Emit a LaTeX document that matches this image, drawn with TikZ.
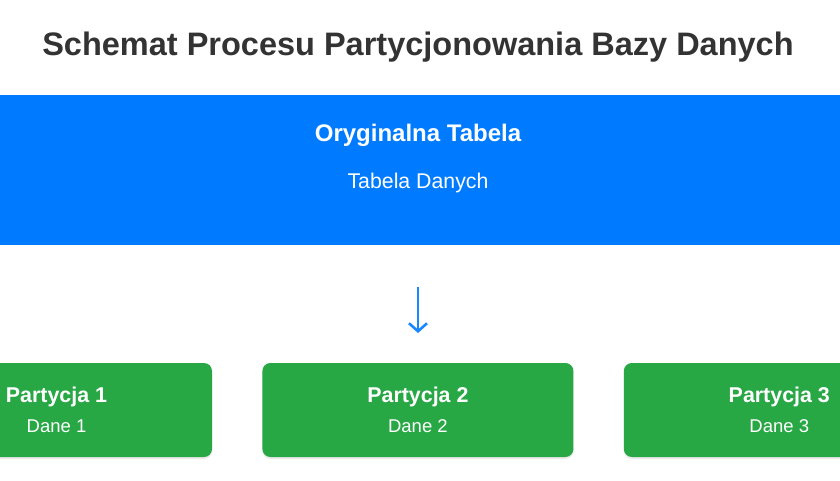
\documentclass[tikz,border=0pt]{standalone}
\usepackage{fontspec}
\setmainfont{Liberation Sans}
\usepackage{tikz}
\usetikzlibrary{
        arrows.meta,
        positioning,
        shadows
    }
\definecolor{tabblue}{HTML}{007BFF}
\definecolor{partgreen}{HTML}{28A745}
\definecolor{titlegray}{HTML}{333333}
\tikzset{
    tabela/.style={rectangle,fill=tabblue,minimum width=840pt,minimum height=150pt,inner sep=0pt},
    partycja/.style={rectangle,rounded corners=8pt,fill=partgreen,text=white,
        minimum width=311pt,minimum height=94pt,inner sep=0pt,align=center,
        font=\fontsize{18.5}{30}\selectfont,
        drop shadow={shadow xshift=0pt,shadow yshift=-2pt,opacity=0.08,fill=black}},
    strzalka/.style={draw=tabblue!90!white,line width=2pt,
        -{Straight Barb[length=8pt,width=18pt,line width=2.6pt]}}
}

\begin{document}
\begin{tikzpicture}[x=1pt,y=-1pt,node distance=50pt]
            \useasboundingbox[fill=white] (0,0) rectangle (840,480);
            \node[text=titlegray,font=\fontsize{32.5}{38}\selectfont\bfseries] (title) at (418,47)
                {Schemat Procesu Partycjonowania Bazy Danych};
            \node[tabela] (tab) at (420,170) {};
            \node[text=white,font=\fontsize{24}{28}\selectfont\bfseries] (tabT) at (418,135) {Oryginalna Tabela};
            \node[text=white,font=\fontsize{21.3}{26}\selectfont] (tabS) at (418,183) {Tabela Danych};
            % arrow between table and partitions
            \coordinate (arrS) at (418,287);
            \coordinate (arrE) at (418,333);
            \draw[strzalka] (arrS) -- (arrE);
            \node[partycja] (p1) at (56.5,410)
                {{\fontsize{21.4}{30}\selectfont\bfseries Partycja 1}\\Dane 1};
            \node[partycja] (p2) [right=of p1]
                {{\fontsize{21.4}{30}\selectfont\bfseries Partycja 2}\\Dane 2};
            \node[partycja] (p3) [right=of p2]
                {{\fontsize{21.4}{30}\selectfont\bfseries Partycja 3}\\Dane 3};
        \end{tikzpicture}
\end{document}
